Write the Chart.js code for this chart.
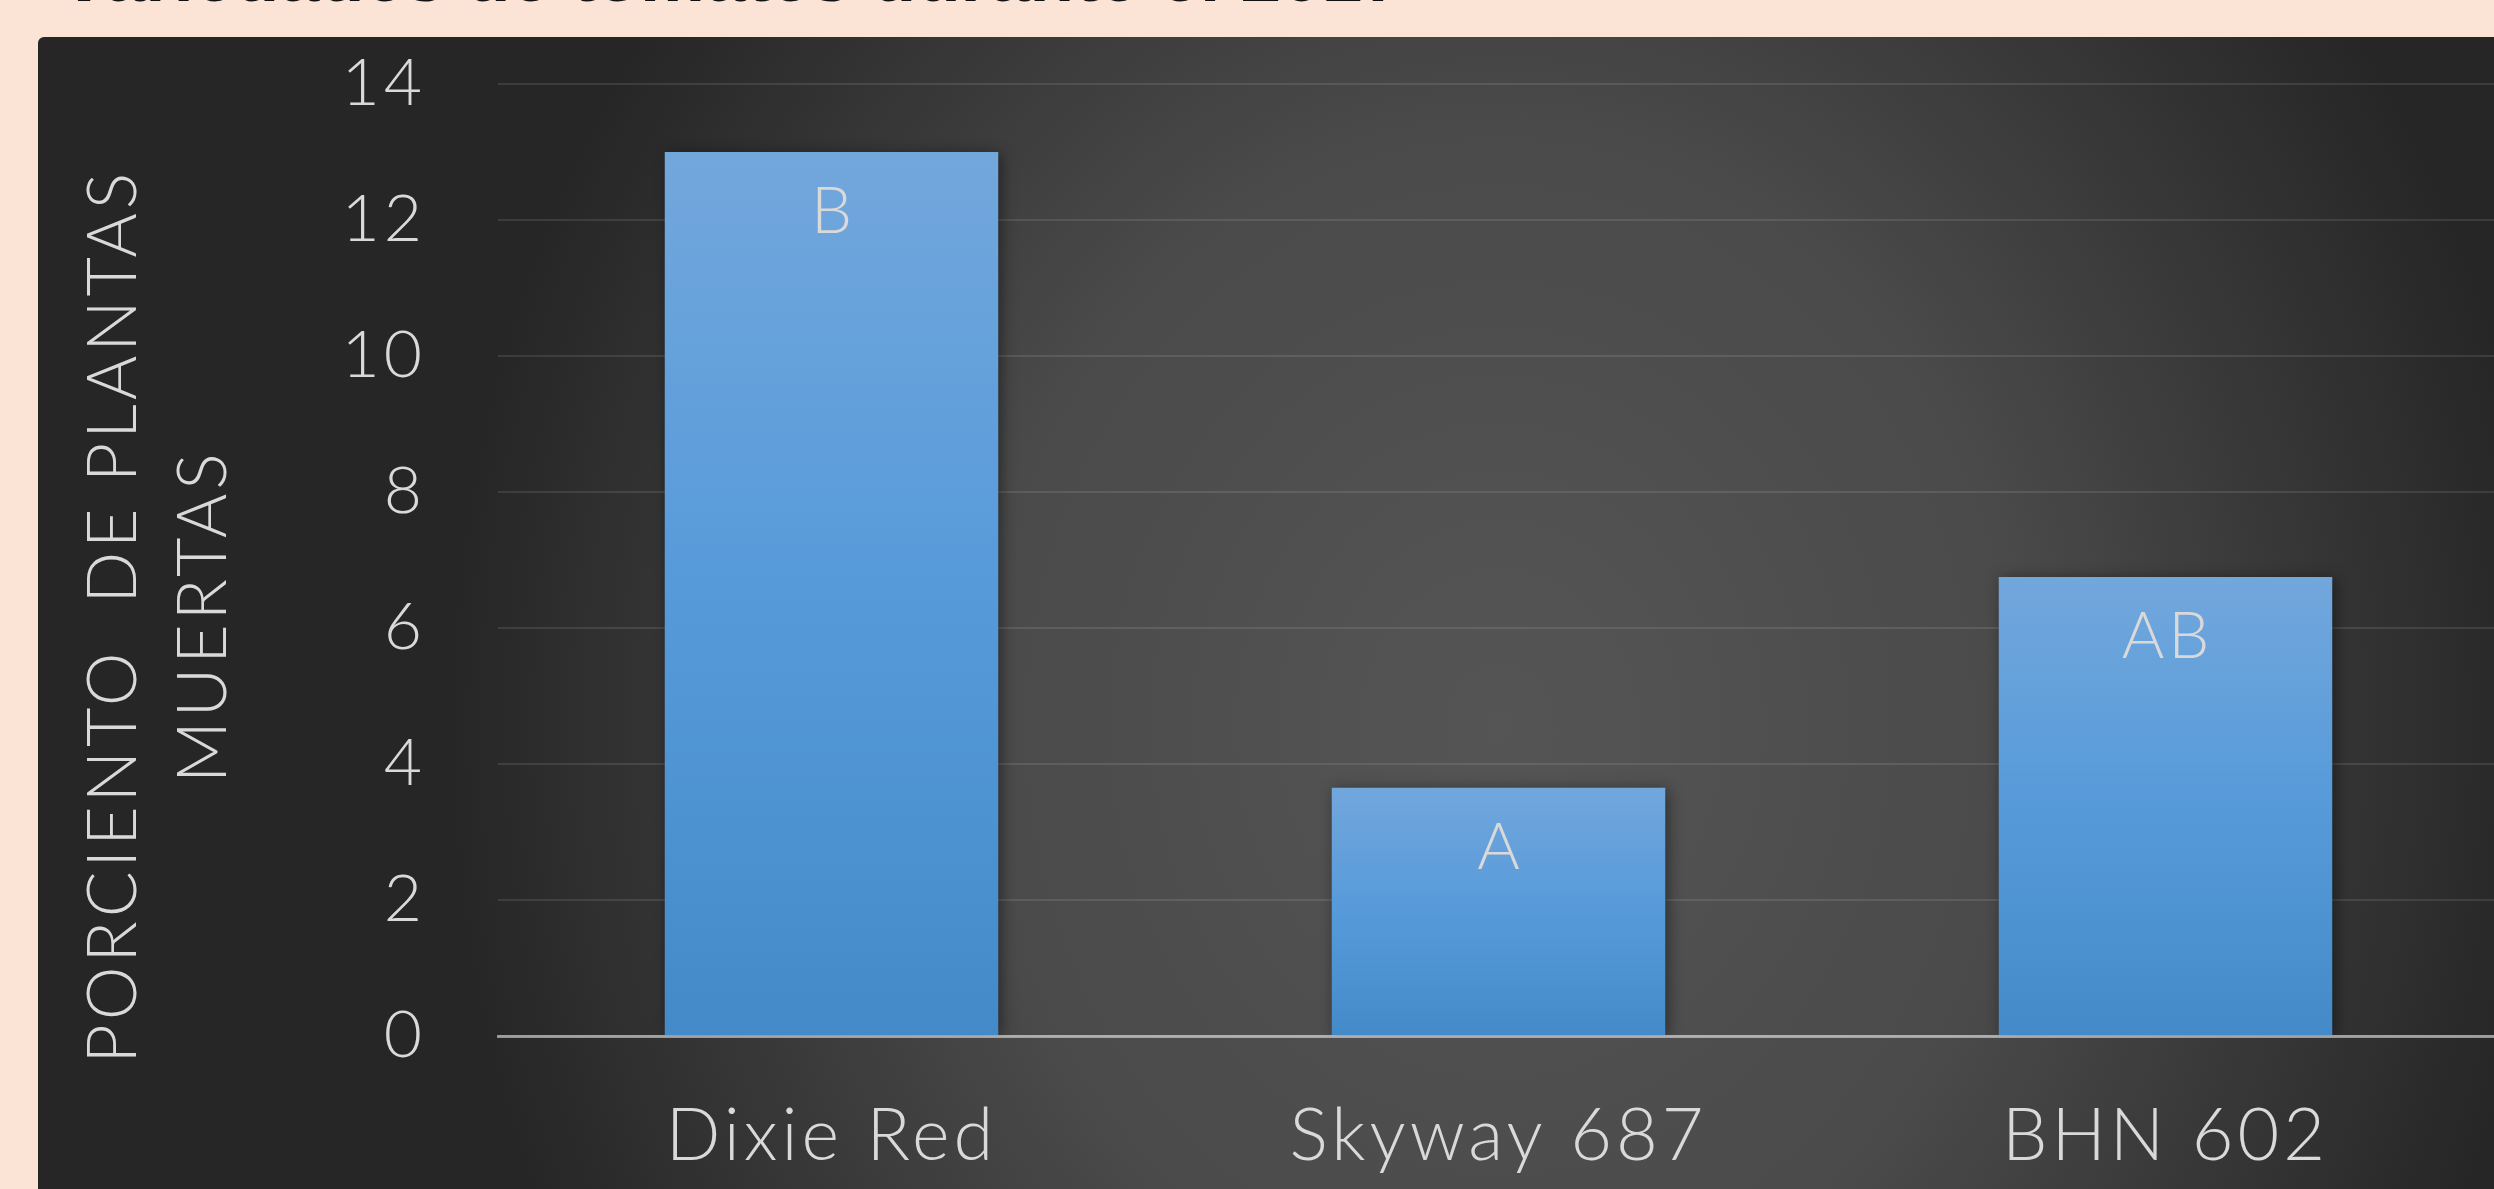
<!DOCTYPE html>
<html>
<head>
<meta charset="utf-8">
<script src="https://cdn.jsdelivr.net/npm/chart.js@4.4.1/dist/chart.umd.min.js"></script>
<style>
  html, body {
    margin: 0;
    padding: 0;
    width: 2494px;
    height: 1189px;
    overflow: hidden;
    background: #fbe4d6;
  }
  #title {
    position: absolute;
    left: 64px;
    top: -66px;
    font: bold 73px "Liberation Sans", Arial, sans-serif;
    color: #111;
    white-space: nowrap;
  }
  #panel {
    position: absolute;
    left: 38px;
    top: 37px;
    width: 2461px;
    height: 1152px;
    border-top-left-radius: 6px;
    background: radial-gradient(ellipse 1050px 1200px at 1462px 690px, #555555 0%, #4a4a4a 50%, #262626 100%);
  }
</style>
</head>
<body>
<div id="title">variedades de tomates durante el 2017</div>
<div id="panel"><canvas id="chart"></canvas></div>
<script>
// Data
const categories = ["Dixie Red", "Skyway 687", "BHN 602"];
const deadPercent = [13.0, 3.65, 6.75];
const groupLetters = ["B", "A", "AB"];
// trailing spaces push the rotated title a little lower, as in the original
const yAxisTitle = ["PORCIENTO  DE PLANTAS     ", "MUERTAS     "];
const yMin = 0;
const yMax = 14;
const yStep = 2;

const textColor = "#d9d9d9";
const fontFamily = "Lato, 'Open Sans', sans-serif";
const spacing = "4px";

// Vertical gradient per bar, lighter at the top
function barGradient(context) {
  const chart = context.chart;
  if (!chart.chartArea) return "#5599da";
  const y = chart.scales.y;
  const top = y.getPixelForValue(context.raw);
  const bottom = y.getPixelForValue(0);
  if (!isFinite(top) || top === bottom) return "#5599da";
  const g = chart.ctx.createLinearGradient(0, top, 0, bottom);
  g.addColorStop(0, "#72a7dc");
  g.addColorStop(0.5, "#569ada");
  g.addColorStop(1, "#448ac8");
  return g;
}

// Wider letter spacing for all canvas text (the original font is wide)
const letterSpacing = {
  id: "letterSpacing",
  beforeUpdate(chart) {
    chart.ctx.letterSpacing = spacing;
  },
  beforeDraw(chart) {
    chart.ctx.letterSpacing = spacing;
  },
};

// Soft shadow under bars, then the letters inside them
const barDecor = {
  id: "barDecor",
  beforeDatasetsDraw(chart) {
    const ctx = chart.ctx;
    ctx.save();
    ctx.shadowColor = "rgba(0, 0, 0, 0.45)";
    ctx.shadowBlur = 14;
    ctx.shadowOffsetX = 3;
    ctx.shadowOffsetY = 2;
  },
  afterDatasetsDraw(chart) {
    const ctx = chart.ctx;
    ctx.restore();
    const meta = chart.getDatasetMeta(0);
    ctx.save();
    ctx.fillStyle = textColor;
    ctx.font = "300 65px " + fontFamily;
    ctx.textAlign = "center";
    ctx.textBaseline = "middle";
    meta.data.forEach((bar, i) => {
      ctx.fillText(groupLetters[i], bar.x + 2, bar.y + 60);
    });
    ctx.restore();
  },
};

new Chart(document.getElementById("chart"), {
  type: "bar",
  data: {
    labels: categories,
    datasets: [
      {
        data: deadPercent,
        backgroundColor: barGradient,
        borderWidth: 0,
        barPercentage: 1,
        categoryPercentage: 0.5,
      },
    ],
  },
  options: {
    responsive: true,
    maintainAspectRatio: false,
    animation: false,
    layout: {
      padding: { top: 47, left: 0, right: 0, bottom: 0 },
    },
    plugins: {
      legend: { display: false },
      tooltip: { enabled: false },
    },
    scales: {
      x: {
        grid: { display: false },
        border: {
          display: true,
          color: "rgba(255, 255, 255, 0.5)",
          width: 3,
          z: 1,
        },
        ticks: {
          color: textColor,
          padding: 50,
          font: { family: fontFamily, size: 72, weight: "300" },
        },
        afterFit(scale) {
          scale.height = 153;
        },
      },
      y: {
        min: yMin,
        max: yMax,
        grid: {
          color: "rgba(255, 255, 255, 0.1)",
          lineWidth: 2,
          drawTicks: true,
          tickLength: 65,
          tickColor: "rgba(0, 0, 0, 0)",
        },
        border: { display: false },
        ticks: {
          stepSize: yStep,
          color: textColor,
          padding: 7,
          font: { family: fontFamily, size: 66, weight: "300" },
        },
        title: {
          display: true,
          text: yAxisTitle,
          color: textColor,
          padding: { top: 32, bottom: 0 },
          font: { family: fontFamily, size: 68, weight: "300", lineHeight: 1.31 },
        },
        afterFit(scale) {
          scale.width = 460;
        },
      },
    },
  },
  plugins: [letterSpacing, barDecor],
});
</script>
</body>
</html>
